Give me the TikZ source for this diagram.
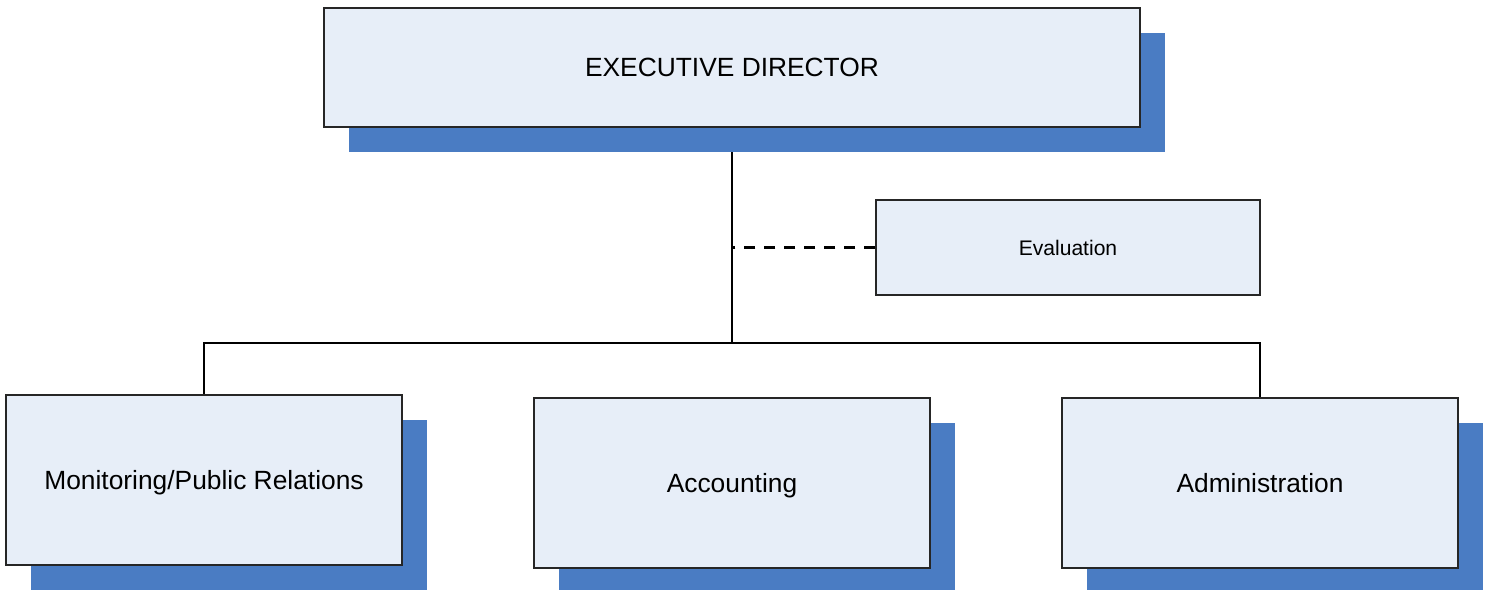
\documentclass[tikz,border=0pt]{standalone}
\usepackage{fontspec}
\setmainfont{Liberation Sans}
\usetikzlibrary{shadows,backgrounds}
\definecolor{boxfill}{HTML}{E7EEF8}
\definecolor{shadeblue}{HTML}{4A7CC3}

\begin{document}
\begin{tikzpicture}[x=0.02cm,y=-0.02cm,
  unit/.style={draw=black!85, fill=boxfill, line width=0.75pt, inner sep=0pt,
    text height=13.5pt, text depth=2.76pt, font=\fontsize{15}{18}\selectfont},
  shaded/.style={general shadow={fill=shadeblue, shadow xshift=0.5cm, shadow yshift=-0.5cm}},
  bigbox/.style={unit, shaded, minimum width=7.92cm, minimum height=3.4cm},
  link/.style={line width=1pt, black}]
\useasboundingbox (0,0) rectangle (1491,590);
% boxes
\node[unit, shaded, minimum width=16.32cm, minimum height=2.38cm] (exec) at (732,67.5) {EXECUTIVE DIRECTOR};
\node[unit, minimum width=7.68cm, minimum height=1.9cm, text height=10.8pt, text depth=2.2pt,
  font=\fontsize{12}{14}\selectfont] (eval) at (1068,247.5) {Evaluation};
\node[bigbox] (mon) at (204,480) {Monitoring/Public Relations};
\node[bigbox] (acc) at (732,483) {Accounting};
\node[bigbox] (adm) at (1260,483) {Administration};
% lines
\coordinate (junc) at (732,343);
\begin{scope}[on background layer]
\draw[link] (exec.south) -- (junc);
\draw[link] (mon.north) |- (junc) -| (adm.north);
\draw[link, line width=1.2pt, dash pattern=on 0.22cm off 0.18cm] (eval.west) -- (eval.west -| exec.south);
\end{scope}
\end{tikzpicture}
\end{document}
